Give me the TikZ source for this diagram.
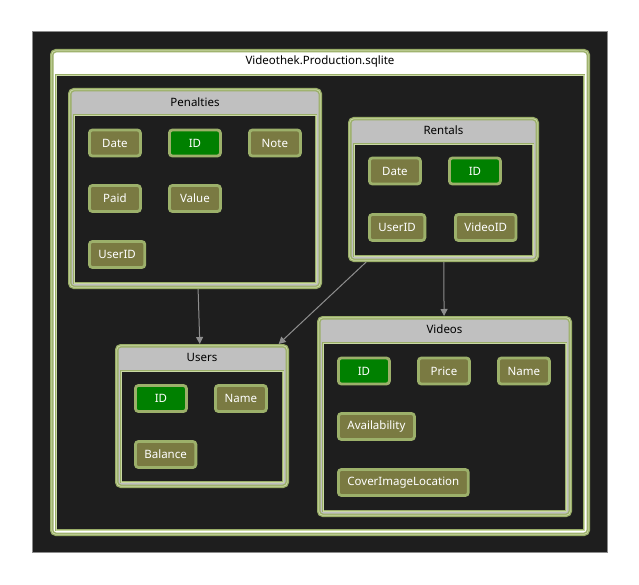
\documentclass[tikz,border=0pt]{standalone}
\usepackage{fontspec}
\setmainfont{Noto Sans}
\usetikzlibrary{arrows.meta}
\definecolor{canvas}{HTML}{1E1E1E}
\definecolor{edgegrey}{HTML}{8C8C8C}
\definecolor{grpgreen}{HTML}{9AAE68}
\definecolor{grplight}{HTML}{CAD9A4}
\definecolor{hdrgrey}{HTML}{C0C0C0}
\definecolor{fldolive}{HTML}{7A7A42}
\definecolor{fldborder}{HTML}{9CB06A}
\definecolor{keygreen}{HTML}{008000}
\definecolor{linkgrey}{HTML}{8E8E8E}
\tikzset{
  tbl/.style={rectangle, rounded corners=4pt, fill=hdrgrey, draw=grpgreen, line width=3.5pt,
    inner sep=0pt, postaction={draw=grplight, line width=0.8pt}},
  tblbody/.style={fill=canvas, draw=grpgreen, line width=2.5pt,
    postaction={draw=grplight, line width=0.7pt}},
  hdrlbl/.style={text=black, font=\fontsize{11.5}{13}\selectfont, inner sep=1pt},
  fld/.style={rectangle, rounded corners=3pt, fill=fldolive, draw=fldborder, line width=2.8pt,
    text=white, minimum width=51pt, minimum height=26pt, inner xsep=9pt, anchor=west,
    font=\fontsize{11.5}{13}\selectfont},
  key/.style={fld, fill=keygreen},
  link/.style={draw=linkgrey, line width=1pt, -{Triangle[length=7pt,width=7pt]}},
}
\begin{document}
\begin{tikzpicture}[x=1pt,y=-1pt]
  \useasboundingbox (0,0) rectangle (639,585);
  % dark canvas
  \draw[fill=canvas, draw=edgegrey, line width=1pt] (32,32) rectangle (607,552);

  % database group
  \node[tbl, fill=white, minimum width=536.5pt, minimum height=483.5pt] (db) at (320,292.5) {};
  \draw[tblbody] ([xshift=6pt,yshift=-26pt]db.north west) rectangle ([xshift=-6pt,yshift=6pt]db.south east);
  \node[hdrlbl] (db-title) at ([yshift=-13pt]db.north) {Videothek.Production.sqlite};

  % tables
  \node[tbl, minimum width=250.5pt, minimum height=197.5pt] (penalties) at (195,188.5) {};
  \node[tbl, minimum width=187.5pt, minimum height=141.5pt] (rentals) at (443.5,189.5) {};
  \node[tbl, minimum width=170.5pt, minimum height=140.5pt] (users) at (202,416) {};
  \node[tbl, minimum width=251.5pt, minimum height=197.5pt] (videos) at (444.5,416.5) {};

  \foreach \t in {penalties,rentals,users,videos}
    \draw[tblbody] ([xshift=6pt,yshift=-27pt]\t.north west) rectangle ([xshift=-6pt,yshift=6pt]\t.south east);

  \node[hdrlbl] (penalties-title) at ([yshift=-14pt]penalties.north) {Penalties};
  \node[hdrlbl] (rentals-title) at ([yshift=-13.5pt]rentals.north) {Rentals};
  \node[hdrlbl] (users-title) at ([yshift=-13.5pt]users.north) {Users};
  \node[hdrlbl] (videos-title) at ([yshift=-13.5pt]videos.north) {Videos};

  % columns
  \foreach \n/\x/\y/\s/\txt in {
      pen-date/88/143/fld/Date, pen-id/168/143/key/ID, pen-note/248/143/fld/Note,
      pen-paid/88/198.5/fld/Paid, pen-value/168/198.5/fld/Value,
      pen-userid/88/254.5/fld/UserID,
      ren-date/368/171/fld/Date, ren-id/448/171/key/ID,
      ren-userid/368/227.5/fld/UserID, ren-videoid/454/227.5/fld/VideoID,
      usr-id/134/398.5/key/ID, usr-name/214/398.5/fld/Name,
      usr-balance/134/454.5/fld/Balance,
      vid-id/337/371/key/ID, vid-price/417/371/fld/Price, vid-name/497/371/fld/Name,
      vid-avail/337/426.5/fld/Availability,
      vid-cover/337/482.5/fld/CoverImageLocation}
    \node[\s] (\n) at (\x,\y) {\txt};

  % relations
  \draw[link] (penalties) -- (users);
  \draw[link] (rentals) -- (users);
  \draw[link] (rentals) -- (videos);
\end{tikzpicture}
\end{document}
